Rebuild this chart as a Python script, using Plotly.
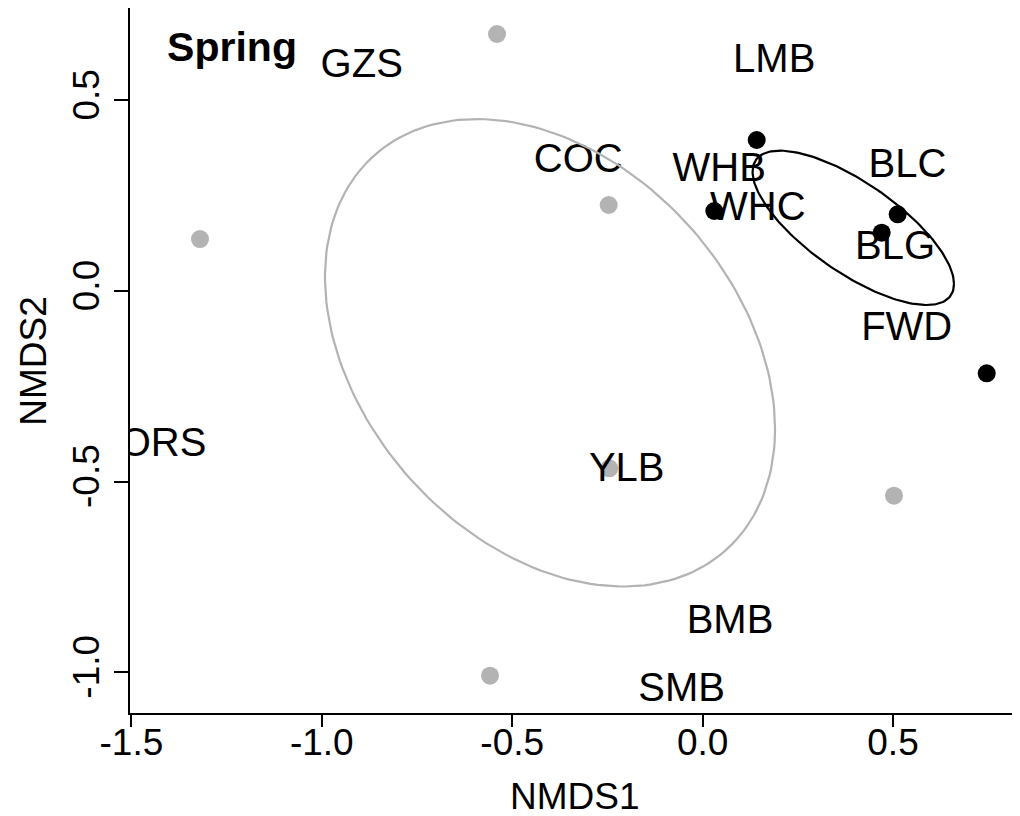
import numpy as np
import plotly.graph_objects as go

# ---- data ----
grey_x = [-0.5399, -1.3199, -0.2466, -0.2450, 0.5026, -0.5583]
grey_y = [0.6741, 0.1364, 0.2256, -0.4649, -0.5368, -1.0089]

black_x = [0.1421, 0.0307, 0.5123, 0.4703, 0.7461]
black_y = [0.3961, 0.2099, 0.2012, 0.1530, -0.2158]

species = ["GZS", "LMB", "COC", "WHB", "WHC", "BLC", "BLG", "FWD", "ORS", "YLB", "BMB", "SMB"]
species_x = [-0.8952, 0.1880, -0.3264, 0.0436, 0.1450, 0.5381, 0.5053, 0.5360, -1.4170, -0.1993, 0.0720, -0.0549]
species_y = [0.5980, 0.6124, 0.3481, 0.3260, 0.2235, 0.3366, 0.1207, -0.0912, -0.3952, -0.4607, -0.8607, -1.0398]

# ellipse parameters: centre x, centre y, sd x, sd y, correlation
ell_grey = [-0.4007, -0.1620, 0.591, 0.613, -0.325]
ell_black = [0.3957, 0.1658, 0.2645, 0.2024, -0.728]

x_ticks = [-1.5, -1.0, -0.5, 0.0, 0.5]
x_ticktext = ["-1.5", "-1.0", "-0.5", "0.0", "0.5"]
y_ticks = [-1.0, -0.5, 0.0, 0.5]
y_ticktext = ["-1.0", "-0.5", "0.0", "0.5"]

panel_label = "Spring"
panel_pos = [-1.2358, 0.6408]

GREY = "#b3b3b3"
FONT = "Liberation Sans, Arial, sans-serif"

Y_RANGE = [-1.1067, 0.7423]
PLOT_H = 705
# small baseline correction so caps are centred on the anchor like R's text()
TEXT_DY = -4 * (Y_RANGE[1] - Y_RANGE[0]) / PLOT_H


def ellipse(p, n=200):
    cx, cy, sx, sy, r = p
    cov = np.array([[sx * sx, r * sx * sy], [r * sx * sy, sy * sy]])
    L = np.linalg.cholesky(cov)
    t = np.linspace(0, 2 * np.pi, n)
    pts = L @ np.vstack([np.cos(t), np.sin(t)])
    return cx + pts[0], cy + pts[1]


fig = go.Figure()
fig.add_trace(go.Scatter(x=grey_x, y=grey_y, mode="markers",
                         marker=dict(color=GREY, size=18, line=dict(width=0)),
                         showlegend=False, hoverinfo="skip"))
fig.add_trace(go.Scatter(x=black_x, y=black_y, mode="markers",
                         marker=dict(color="black", size=18, line=dict(width=0)),
                         showlegend=False, hoverinfo="skip"))
fig.add_trace(go.Scatter(x=species_x, y=[v + TEXT_DY for v in species_y], mode="text",
                         text=species, textposition="middle center",
                         textfont=dict(family=FONT, size=40, color="black"),
                         showlegend=False, hoverinfo="skip"))
ex, ey = ellipse(ell_grey)
fig.add_trace(go.Scatter(x=ex, y=ey, mode="lines", line=dict(color=GREY, width=2.2),
                         showlegend=False, hoverinfo="skip"))
ex, ey = ellipse(ell_black)
fig.add_trace(go.Scatter(x=ex, y=ey, mode="lines", line=dict(color="black", width=2.2),
                         showlegend=False, hoverinfo="skip"))
fig.add_trace(go.Scatter(x=[panel_pos[0]], y=[panel_pos[1] + TEXT_DY], mode="text",
                         text=[panel_label], textposition="middle center",
                         textfont=dict(family=FONT, size=41, color="black", weight="bold"),
                         showlegend=False, hoverinfo="skip"))

axis_common = dict(showgrid=False, zeroline=False, showline=True, linecolor="black",
                   linewidth=1.5, ticks="outside", tickcolor="black", tickwidth=1.5,
                   tickfont=dict(family=FONT, size=37, color="black"), automargin=False,
                   mirror=False)

# the page adds an 8px body margin, so the figure is 8px smaller and shifted accordingly
fig.update_layout(
    width=1012, height=808,
    margin=dict(l=122, r=1, t=0, b=103),
    paper_bgcolor="white", plot_bgcolor="white",
    xaxis=dict(range=[-1.5037, 0.8309], tickmode="array", tickvals=x_ticks,
               ticktext=x_ticktext, ticklen=12, ticklabelstandoff=-16, **axis_common),
    yaxis=dict(range=Y_RANGE, tickmode="array", tickvals=y_ticks,
               ticktext=y_ticktext, ticklen=14, tickangle=-90, **axis_common),
    annotations=[
        dict(text="NMDS1", xref="paper", yref="paper", x=0.5, y=-0.119,
             xanchor="center", yanchor="middle", showarrow=False,
             font=dict(family=FONT, size=37, color="black")),
        dict(text="NMDS2", xref="paper", yref="paper", x=-0.1088, y=0.5,
             xanchor="center", yanchor="middle", textangle=-90, showarrow=False,
             font=dict(family=FONT, size=37, color="black")),
    ],
)

fig.write_html("out.html")
